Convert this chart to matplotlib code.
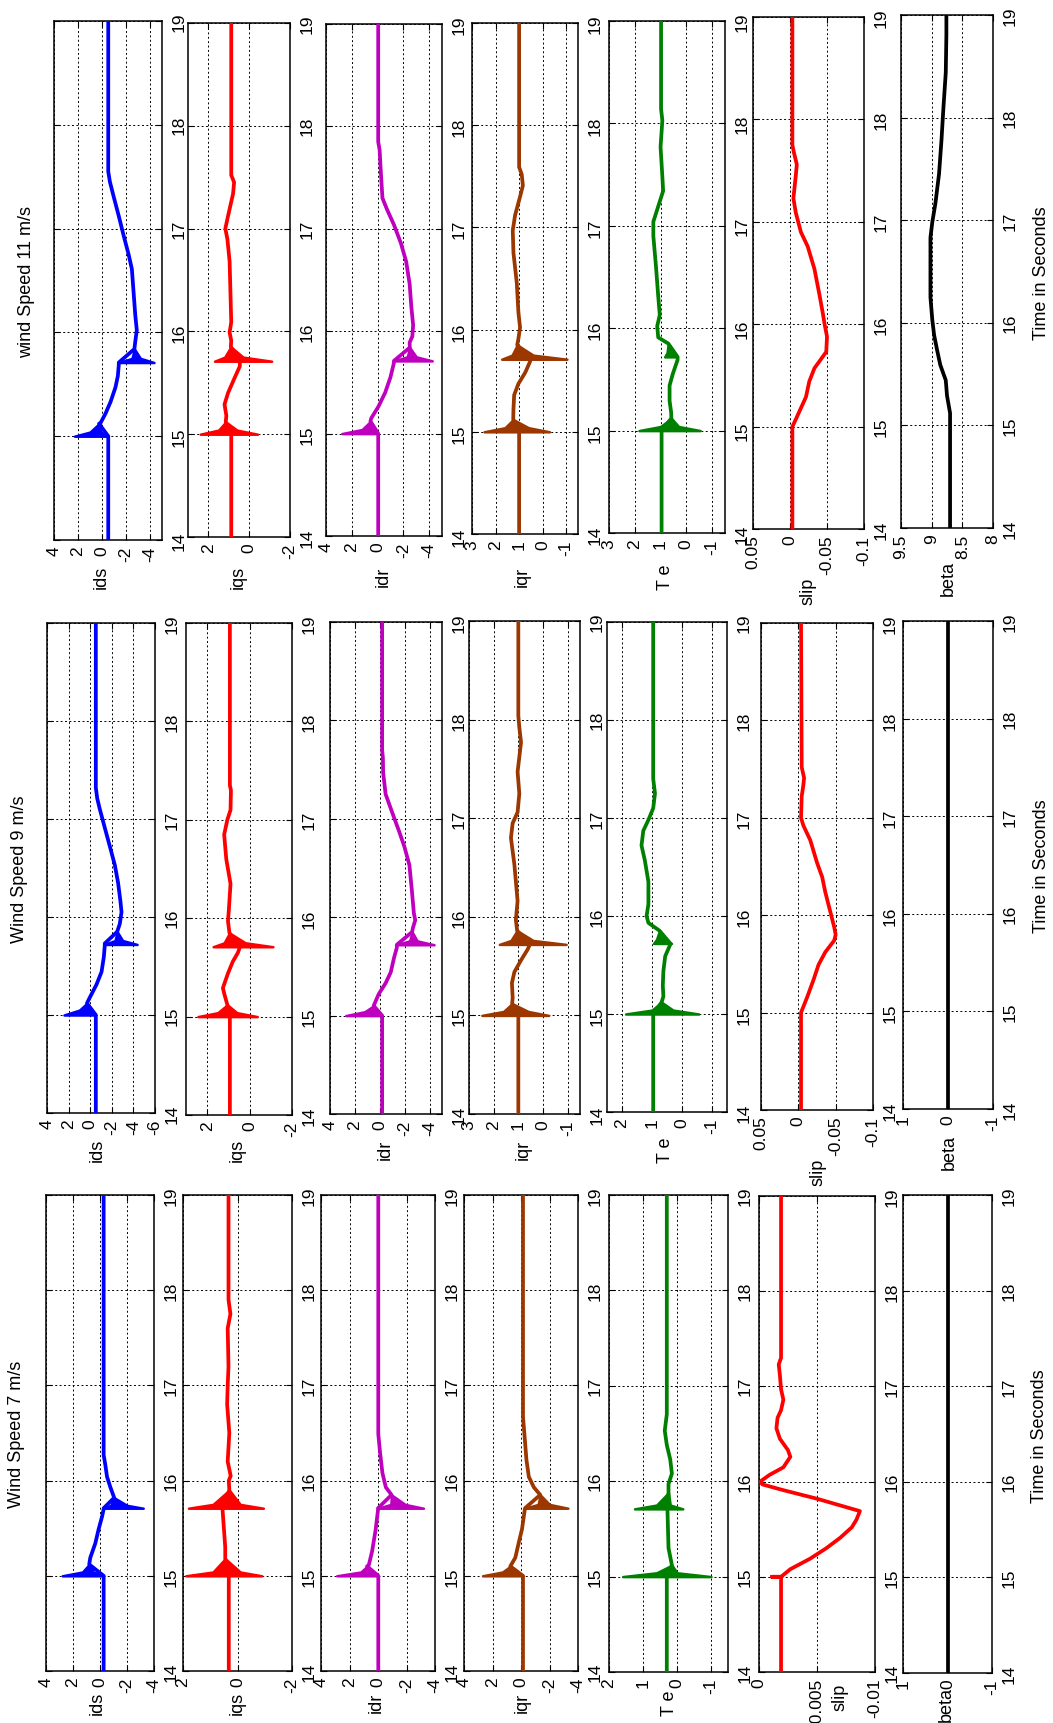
import matplotlib
matplotlib.use('Agg')
import matplotlib.pyplot as plt

# ---------------- data (time in s, value) ----------------
time_ticks = [14, 15, 16, 17, 18, 19]
time_labels = ['14', '15', '16', '17', '18', '19']
var_names = ['ids', 'iqs', 'idr', 'iqr', 'T e', 'slip', 'beta']
titles = ['Wind Speed 7 m/s', 'Wind Speed 9 m/s', 'wind Speed 11 m/s']
time_title = 'Time in Seconds'

# ---- Wind speed 7 m/s ----
ids7_t = [14, 15.0, 15.12, 15.19, 15.34, 15.49, 15.62, 15.70, 15.71, 15.82, 15.93, 16.04, 16.16, 16.27, 19]
ids7_v = [-0.27, -0.27, 0.8, 0.72, 0.35, 0.1, -0.15, -0.27, -0.27, -1.05, -0.77, -0.52, -0.4, -0.27, -0.27]
ids7_spk = [([15.0, 15.04, 15.12], [-0.27, 0.5, 0.8], [2.8, 1.3, 0.8]),
            ([15.71, 15.74, 15.82], [-3.2, -2.0, -1.05], [-0.27, -0.8, -1.05])]
iqs7_t = [14, 15.0, 15.18, 15.3, 15.5, 15.70, 15.71, 15.9, 16.0, 16.05, 16.2, 16.5, 16.8, 17.0, 17.2, 17.6, 17.75, 17.9, 19]
iqs7_v = [0.32, 0.32, 0.45, 0.45, 0.5, 0.55, 0.55, 0.3, 0.32, 0.25, 0.36, 0.3, 0.38, 0.36, 0.33, 0.36, 0.26, 0.33, 0.33]
iqs7_spk = [([15.0, 15.04, 15.18], [-0.89, -0.1, 0.45], [1.9, 0.9, 0.45]),
            ([15.71, 15.75, 15.9], [-0.95, -0.1, 0.3], [1.8, 0.9, 0.3])]
idr7_t = [14, 15.0, 15.1, 15.11, 15.26, 15.48, 15.69, 15.71, 15.85, 15.93, 16.08, 16.3, 16.49, 19]
idr7_v = [-0.02, -0.02, 0.77, 0.65, 0.41, 0.17, 0.0, 0.0, -0.95, -0.55, -0.31, -0.14, -0.02, -0.02]
idr7_spk = [([15.0, 15.04, 15.1], [-0.02, 0.5, 0.77], [2.9, 1.2, 0.77]),
            ([15.71, 15.75, 15.85], [-3.19, -1.9, -0.95], [0.0, -0.9, -0.95])]
iqr7_t = [14, 15.0, 15.1, 15.19, 15.34, 15.49, 15.69, 15.71, 15.85, 15.93, 16.04, 16.22, 16.45, 16.67, 19]
iqr7_v = [-0.14, -0.14, 0.75, 0.4, 0.17, -0.07, -0.26, -0.28, -1.35, -0.9, -0.55, -0.38, -0.26, -0.14, -0.14]
iqr7_spk = [([15.0, 15.04, 15.1], [-0.14, 0.5, 0.75], [2.7, 1.3, 0.75]),
            ([15.71, 15.75, 15.85], [-3.29, -2.0, -1.35], [-0.28, -1.2, -1.35])]
Te7_t = [14, 15.0, 15.12, 15.3, 15.69, 15.71, 15.88, 15.97, 16.08, 16.23, 16.38, 16.53, 16.7, 19]
Te7_v = [0.3, 0.3, 0.15, 0.25, 0.28, 0.28, 0.25, 0.25, 0.15, 0.2, 0.3, 0.36, 0.3, 0.3]
Te7_spk = [([15.0, 15.04, 15.12], [-1.0, 0.0, 0.15], [1.6, 0.6, 0.15]),
           ([15.71, 15.75, 15.88], [-0.17, 0.2, 0.25], [1.25, 0.6, 0.25])]
slip7_t = [14, 15.0, 15.0, 15.0, 15.08, 15.19, 15.3, 15.41, 15.52, 15.6, 15.69, 15.82, 15.91, 15.97, 16.0,
           16.07, 16.15, 16.26, 16.33, 16.45, 16.56, 16.67, 16.75, 16.86, 16.97, 17.12, 17.23, 17.3, 19]
slip7_v = [-0.0019, -0.0019, -0.0011, -0.0019, -0.0027, -0.0044, -0.0058, -0.0070, -0.0080, -0.0084, -0.0087,
           -0.0050, -0.0021, -0.0003, -0.0001, -0.0009, -0.0021, -0.0027, -0.0025, -0.0018, -0.0015, -0.0016,
           -0.0019, -0.0021, -0.0019, -0.0018, -0.0017, -0.0019, -0.0019]
beta7_t = [14, 19]
beta7_v = [0, 0]

# ---- Wind speed 9 m/s ----
ids9_t = [14, 15.0, 15.12, 15.18, 15.31, 15.44, 15.59, 15.71, 15.73, 15.85, 15.93, 16.05, 16.16, 16.35,
          16.53, 16.72, 16.87, 17.1, 17.21, 17.32, 19]
ids9_v = [-0.52, -0.52, 0.3, 0.03, -0.58, -1.05, -1.26, -1.35, -1.35, -2.5, -2.74, -2.9, -2.8, -2.58,
          -2.28, -1.82, -1.45, -0.89, -0.65, -0.52, -0.52]
ids9_spk = [([15.0, 15.05, 15.12], [-0.52, 0.1, 0.3], [2.43, 1.0, 0.3]),
            ([15.72, 15.76, 15.85], [-4.34, -3.0, -2.5], [-1.35, -2.3, -2.5])]
iqs9_t = [14, 15.0, 15.12, 15.22, 15.29, 15.44, 15.56, 15.65, 15.70, 15.71, 15.85, 15.97, 16.08, 16.35,
          16.6, 16.85, 17.0, 17.1, 17.3, 17.35, 19]
iqs9_v = [0.93, 0.93, 1.05, 1.18, 1.26, 1.02, 0.79, 0.55, 0.47, 0.47, 0.95, 1.02, 0.98, 0.9,
          1.1, 1.2, 1.05, 0.9, 0.88, 0.93, 0.93]
iqs9_spk = [([15.0, 15.04, 15.12], [-0.36, 0.6, 1.05], [2.44, 1.5, 1.05]),
            ([15.71, 15.75, 15.85], [-1.1, 0.2, 0.95], [1.72, 1.2, 0.95])]
idr9_t = [14, 15.0, 15.1, 15.22, 15.33, 15.44, 15.59, 15.69, 15.72, 15.85, 15.89, 15.97, 16.04, 16.27,
          16.53, 16.72, 16.87, 17.06, 17.25, 17.47, 17.62, 17.7, 19]
idr9_v = [-0.19, -0.19, 0.49, 0.08, -0.47, -0.88, -1.15, -1.37, -1.37, -2.6, -2.66, -2.85, -2.74, -2.58,
          -2.38, -1.97, -1.56, -1.01, -0.47, -0.27, -0.25, -0.19, -0.19]
idr9_spk = [([15.0, 15.04, 15.1], [-0.19, 0.3, 0.49], [2.74, 1.2, 0.49]),
            ([15.72, 15.76, 15.85], [-4.36, -3.0, -2.6], [-1.37, -2.4, -2.6])]
iqr9_t = [14, 15.0, 15.12, 15.18, 15.33, 15.44, 15.56, 15.67, 15.71, 15.72, 15.86, 15.97, 16.16, 16.53,
          16.8, 16.95, 17.06, 17.25, 17.47, 17.77, 17.92, 18.04, 19]
iqr9_v = [1.0, 1.0, 1.25, 1.23, 1.26, 1.16, 0.89, 0.62, 0.55, 0.55, 1.05, 1.1, 1.03, 1.16,
          1.3, 1.23, 1.03, 0.96, 1.03, 0.89, 0.96, 1.0, 1.0]
iqr9_spk = [([15.0, 15.04, 15.12], [-0.23, 0.6, 1.25], [2.48, 1.6, 1.25]),
            ([15.72, 15.76, 15.86], [-0.94, 0.4, 1.05], [1.77, 1.3, 1.05])]
Te9_t = [14, 15.0, 15.12, 15.18, 15.29, 15.44, 15.59, 15.71, 15.72, 15.85, 15.93, 16.0, 16.12, 16.35,
         16.57, 16.72, 16.87, 16.98, 17.1, 17.25, 17.4, 19]
Te9_v = [0.96, 0.96, 0.68, 0.62, 0.64, 0.62, 0.56, 0.39, 0.39, 0.75, 1.12, 1.18, 1.12, 1.12,
         1.24, 1.35, 1.29, 1.12, 0.96, 0.9, 0.96, 0.96]
Te9_spk = [([15.0, 15.04, 15.12], [-0.56, 0.3, 0.68], [1.88, 1.0, 0.68]),
           ([15.72, 15.76, 15.85], [0.35, 0.6, 0.75], [0.95, 0.85, 0.75])]
slip9_t = [14, 15.0, 15.15, 15.34, 15.49, 15.62, 15.69, 15.74, 15.8, 15.88, 15.97, 16.09, 16.24, 16.39,
           16.54, 16.77, 16.92, 17.0, 17.22, 17.34, 17.41, 17.52, 19]
slip9_v = [-0.0036, -0.0036, -0.0114, -0.0205, -0.027, -0.036, -0.043, -0.048, -0.050, -0.048, -0.045,
           -0.041, -0.036, -0.032, -0.025, -0.016, -0.0068, -0.0036, -0.0045, -0.0068, -0.0077, -0.0045, -0.0036]
beta9_t = [14, 19]
beta9_v = [0, 0]

# ---- Wind speed 11 m/s ----
ids11_t = [14, 15.0, 15.12, 15.13, 15.22, 15.33, 15.47, 15.58, 15.69, 15.71, 15.84, 15.91, 16.02, 16.17,
           16.39, 16.61, 16.75, 16.93, 17.12, 17.3, 17.45, 17.55, 19]
ids11_v = [-0.52, -0.52, 0.25, 0.11, -0.3, -0.71, -1.12, -1.32, -1.4, -1.4, -2.7, -2.77, -2.9, -2.77,
           -2.63, -2.49, -2.22, -1.81, -1.4, -0.99, -0.66, -0.52, -0.52]
ids11_spk = [([15.0, 15.04, 15.12], [-0.52, 0.1, 0.25], [2.3, 1.0, 0.25]),
             ([15.71, 15.75, 15.84], [-4.33, -3.2, -2.7], [-1.4, -2.5, -2.7])]
iqs11_t = [14, 15.0, 15.12, 15.18, 15.29, 15.4, 15.55, 15.66, 15.71, 15.85, 15.91, 15.99, 16.09, 16.31,
           16.68, 16.9, 17.0, 17.12, 17.34, 17.45, 17.52, 19]
iqs11_v = [0.88, 0.88, 1.15, 1.12, 1.21, 1.04, 0.71, 0.46, 0.46, 0.9, 0.88, 0.96, 0.88, 0.91,
           0.96, 1.07, 1.17, 1.04, 0.79, 0.74, 0.88, 0.88]
iqs11_spk = [([15.0, 15.04, 15.12], [-0.41, 0.6, 1.15], [2.4, 1.5, 1.15]),
             ([15.71, 15.75, 15.85], [-1.1, 0.3, 0.9], [1.7, 1.2, 0.9])]
idr11_t = [14, 15.0, 15.12, 15.15, 15.26, 15.4, 15.55, 15.69, 15.71, 15.84, 15.89, 15.95, 16.06, 16.24,
           16.46, 16.68, 16.86, 17.04, 17.19, 17.3, 17.52, 17.77, 17.85, 19]
idr11_v = [-0.05, -0.05, 0.55, 0.49, -0.05, -0.59, -1.0, -1.27, -1.27, -2.5, -2.49, -2.7, -2.76, -2.62,
           -2.49, -2.22, -1.81, -1.27, -0.73, -0.38, -0.27, -0.16, -0.05, -0.05]
idr11_spk = [([15.0, 15.04, 15.12], [-0.05, 0.4, 0.55], [2.78, 1.2, 0.55]),
             ([15.71, 15.75, 15.84], [-4.24, -3.0, -2.5], [-1.27, -2.3, -2.5])]
iqr11_t = [14, 15.0, 15.12, 15.22, 15.36, 15.47, 15.58, 15.69, 15.71, 15.85, 15.91, 16.02, 16.17, 16.46,
           16.75, 16.97, 17.12, 17.3, 17.41, 17.52, 17.59, 19]
iqr11_v = [1.0, 1.0, 1.25, 1.24, 1.21, 1.03, 0.74, 0.53, 0.53, 1.08, 1.03, 0.96, 1.03, 1.1,
           1.24, 1.27, 1.17, 0.96, 0.84, 0.89, 1.0, 1.0]
iqr11_spk = [([15.0, 15.04, 15.12], [-0.29, 0.6, 1.25], [2.49, 1.6, 1.25]),
             ([15.71, 15.75, 15.85], [-1.03, 0.4, 1.08], [1.74, 1.3, 1.08])]
Te11_t = [14, 15.0, 15.12, 15.18, 15.29, 15.44, 15.55, 15.69, 15.72, 15.85, 15.91, 16.02, 16.13, 16.31,
          16.61, 16.9, 17.04, 17.19, 17.34, 17.48, 17.77, 18.03, 18.14, 19]
Te11_v = [0.96, 0.96, 0.58, 0.59, 0.65, 0.65, 0.53, 0.34, 0.34, 0.7, 1.09, 1.13, 1.03, 1.09,
          1.18, 1.28, 1.28, 1.09, 0.9, 0.93, 1.0, 0.93, 0.98, 0.98]
Te11_spk = [([15.0, 15.04, 15.12], [-0.54, 0.3, 0.58], [1.84, 1.0, 0.58]),
            ([15.72, 15.76, 15.85], [0.34, 0.55, 0.7], [0.84, 0.75, 0.7])]
slip11_t = [14, 15.0, 15.07, 15.18, 15.29, 15.44, 15.57, 15.64, 15.73, 15.88, 15.99, 16.1, 16.28, 16.54,
            16.76, 16.9, 17.09, 17.23, 17.45, 17.56, 17.67, 17.75, 19]
slip11_v = [-0.0032, -0.0032, -0.0078, -0.0147, -0.0216, -0.026, -0.033, -0.040, -0.049, -0.050, -0.047,
            -0.0445, -0.040, -0.033, -0.0239, -0.0147, -0.0078, -0.0046, -0.0078, -0.0092, -0.0055, -0.0032, -0.0032]
beta11_t = [14, 15.12, 15.29, 15.44, 15.59, 15.73, 15.88, 16.03, 16.25, 16.83, 16.98, 17.16, 17.45, 17.78,
            18.08, 18.44, 18.81, 19]
beta11_v = [8.7, 8.7, 8.75, 8.77, 8.86, 8.91, 8.96, 8.99, 9.02, 9.02, 8.99, 8.94, 8.88, 8.84,
            8.81, 8.77, 8.76, 8.76]

# value-axis ranges (left value, right value), ticks and tick labels
lim7 = [(4, -4), (2, -2), (4, -4), (4, -4), (2, -1.5), (0, -0.01), (1, -1)]
tick7 = [[4, 2, 0, -2, -4], [2, 0, -2], [4, 2, 0, -2, -4], [4, 2, 0, -2, -4], [2, 1, 0, -1], [0, -0.005, -0.01], [1, 0, -1]]
lab7 = [['4', '2', '0', '-2', '-4'], ['2', '0', '-2'], ['4', '2', '0', '-2', '-4'], ['4', '2', '0', '-2', '-4'],
        ['2', '1', '0', '-1'], ['0', '-0.005', '-0.01'], ['1', '0', '-1']]
lim9 = [(4, -6), (3, -2), (4, -5), (3, -1.5), (2.5, -1.5), (0.05, -0.1), (1, -1)]
tick9 = [[4, 2, 0, -2, -4, -6], [2, 0, -2], [4, 2, 0, -2, -4], [3, 2, 1, 0, -1], [2, 1, 0, -1], [0.05, 0, -0.05, -0.1], [1, 0, -1]]
lab9 = [['4', '2', '0', '-2', '-4', '-6'], ['2', '0', '-2'], ['4', '2', '0', '-2', '-4'], ['3', '2', '1', '0', '-1'],
        ['2', '1', '0', '-1'], ['0.05', '0', '-0.05', '-0.1'], ['1', '0', '-1']]
lim11 = [(4, -5), (3, -2), (4, -5), (3, -1.5), (3, -1.5), (0.05, -0.1), (9.5, 8)]
tick11 = [[4, 2, 0, -2, -4], [2, 0, -2], [4, 2, 0, -2, -4], [3, 2, 1, 0, -1], [3, 2, 1, 0, -1], [0.05, 0, -0.05, -0.1], [9.5, 9, 8.5, 8]]
lab11 = [['4', '2', '0', '-2', '-4'], ['2', '0', '-2'], ['4', '2', '0', '-2', '-4'], ['3', '2', '1', '0', '-1'],
         ['3', '2', '1', '0', '-1'], ['0.05', '0', '-0.05', '-0.1'], ['9.5', '9', '8.5', '8']]

# ---------------- styling / layout ----------------
plt.rcParams['font.family'] = ['Liberation Sans', 'DejaVu Sans']
colors = ['#0000FF', '#FF0000', '#BF00BF', '#9C3700', '#008000', '#FF0000', '#000000']
W, H = 1053, 1724
fig = plt.figure(figsize=(W / 100, H / 100), dpi=100)
FS_TICK = 12.5
FS_TEXT = 13

# axes boxes in pixels: (left, right, top, bottom)
boxes7 = [(46, 154, 1196, 1672), (183, 292, 1196, 1672), (321, 435, 1196, 1672), (464, 578, 1196, 1672),
          (609, 728, 1196, 1673), (759, 875, 1197, 1673), (903, 992, 1196, 1674)]
boxes9 = [(47, 155, 624, 1114), (186, 292, 624, 1116), (330, 442, 623, 1115), (469, 580, 622, 1115),
          (607, 727, 623, 1113), (761, 873, 624, 1111), (903, 993, 622, 1110)]
boxes11 = [(54, 162, 22, 541), (188, 290, 24, 538), (326, 442, 25, 537), (472, 578, 24, 535),
           (609, 725, 22, 534), (753, 864, 18, 530), (901, 993, 16, 529)]
labpos7 = [(97, 1703), (237, 1703), (376, 1703), (522, 1703), (669, 1703), (840, 1697), (946, 1705)]
labpos9 = [(97, 1150), (237, 1150), (385, 1150), (523, 1150), (665, 1150), (818, 1172), (949, 1153)]
labpos11 = [(101, 577), (238, 577), (383, 577), (522, 577), (666, 577), (808, 591), (948, 578)]
titlepos = [(17, 1434), (20, 869), (27, 282)]
timepos = [(1040, 1436), (1041, 866), (1041, 273)]


def frac(x, y):
    return x / W, 1 - y / H


def panel(box, t, v, spikes, color, lim, ticks, labels):
    l, r, tp, b = box
    ax = fig.add_axes([l / W, 1 - b / H, (r - l) / W, (b - tp) / H])
    for ts, lo, hi in spikes:
        ax.fill_betweenx(ts, lo, hi, facecolor=color, edgecolor=color, linewidth=1.8, zorder=3)
    ax.plot(v, t, color=color, lw=2.7, zorder=4)
    ax.set_xlim(*lim)
    ax.set_ylim(14, 19)
    ax.set_xticks(ticks)
    ax.set_xticklabels(labels)
    ax.set_yticks(time_ticks)
    ax.set_yticklabels(time_labels)
    ax.grid(True, color='black', linestyle=(0, (2, 2.5)), linewidth=0.7)
    ax.tick_params(direction='in', length=4, width=0.8, top=True, right=True, left=True, bottom=True,
                   labelleft=False, labelright=True, labelbottom=True, labelsize=FS_TICK)
    ax.tick_params(axis='x', labelrotation=90, pad=4)
    ax.tick_params(axis='y', labelrotation=90, pad=7)
    for lbl in ax.get_yticklabels():
        lbl.set_va('center')
    for sp in ax.spines.values():
        sp.set_linewidth(1.1)
    return ax


bands = [
    (boxes7, labpos7, lim7, tick7, lab7,
     [(ids7_t, ids7_v, ids7_spk), (iqs7_t, iqs7_v, iqs7_spk), (idr7_t, idr7_v, idr7_spk),
      (iqr7_t, iqr7_v, iqr7_spk), (Te7_t, Te7_v, Te7_spk), (slip7_t, slip7_v, []), (beta7_t, beta7_v, [])]),
    (boxes9, labpos9, lim9, tick9, lab9,
     [(ids9_t, ids9_v, ids9_spk), (iqs9_t, iqs9_v, iqs9_spk), (idr9_t, idr9_v, idr9_spk),
      (iqr9_t, iqr9_v, iqr9_spk), (Te9_t, Te9_v, Te9_spk), (slip9_t, slip9_v, []), (beta9_t, beta9_v, [])]),
    (boxes11, labpos11, lim11, tick11, lab11,
     [(ids11_t, ids11_v, ids11_spk), (iqs11_t, iqs11_v, iqs11_spk), (idr11_t, idr11_v, idr11_spk),
      (iqr11_t, iqr11_v, iqr11_spk), (Te11_t, Te11_v, Te11_spk), (slip11_t, slip11_v, []), (beta11_t, beta11_v, [])]),
]

for bi, (boxes, labpos, lims, ticks, labs, series) in enumerate(bands):
    for k in range(7):
        t, v, spk = series[k]
        panel(boxes[k], t, v, spk, colors[k], lims[k], ticks[k], labs[k])
        x, y = frac(*labpos[k])
        fig.text(x, y, var_names[k], rotation=90, ha='center', va='center', fontsize=FS_TEXT)
    x, y = frac(*titlepos[bi])
    fig.text(x, y, titles[bi], rotation=90, ha='center', va='center', fontsize=FS_TEXT)
    x, y = frac(*timepos[bi])
    fig.text(x, y, time_title, rotation=90, ha='center', va='center', fontsize=FS_TEXT)

fig.savefig('out.png', dpi=100, facecolor='white')
